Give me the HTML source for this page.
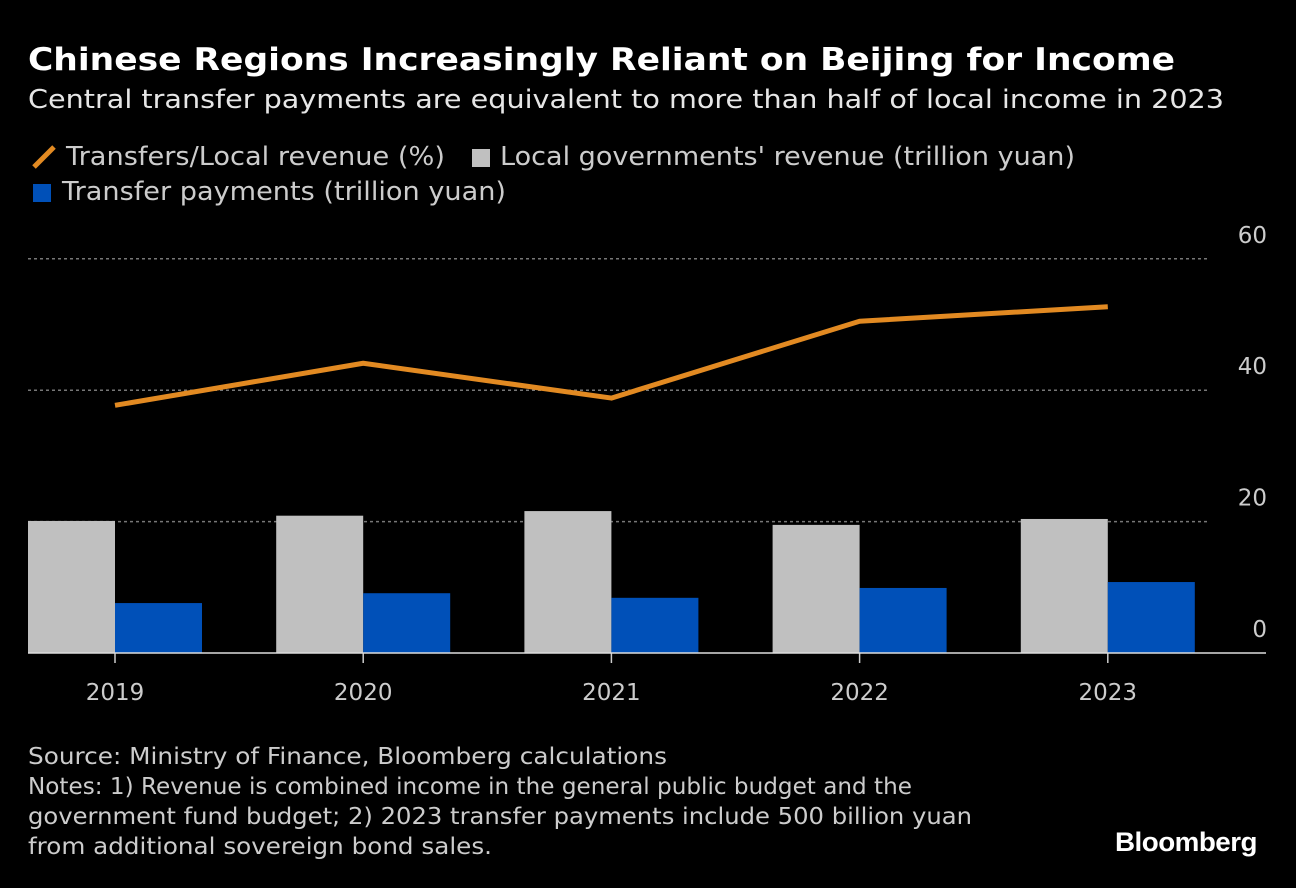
<!DOCTYPE html>
<html><head><meta charset="utf-8"><style>
body{margin:0;background:#000;width:1296px;height:888px;overflow:hidden;font-family:"DejaVu Sans",sans-serif;color:#ddd;position:relative}
.t{position:absolute;white-space:nowrap;transform-origin:0 0}
</style></head><body>
<div class="t fit" data-w="1147" style="left:28px;top:42px;font-size:31px;font-weight:bold;color:#fff">Chinese Regions Increasingly Reliant on Beijing for Income</div>
<div class="t fit" data-w="1196" style="left:28px;top:85px;font-size:26px;color:#e6e6e6">Central transfer payments are equivalent to more than half of local income in 2023</div>
<svg class="t" style="left:30px;top:143px" width="28" height="28"><line x1="4" y1="24" x2="24" y2="4" stroke="#e28a22" stroke-width="5"/></svg>
<div class="t fit" data-w="379" style="left:66px;top:142px;font-size:26px;color:#ccc">Transfers/Local revenue (%)</div>
<div class="t" style="left:472px;top:149px;width:18px;height:18px;background:#c0c0c0"></div>
<div class="t fit" data-w="575" style="left:500px;top:142px;font-size:26px;color:#ccc">Local governments' revenue (trillion yuan)</div>
<div class="t" style="left:33px;top:184px;width:18px;height:18px;background:#0050b8"></div>
<div class="t fit" data-w="444" style="left:62px;top:177px;font-size:26px;color:#ccc">Transfer payments (trillion yuan)</div>
<svg id="chart" width="1296" height="888" style="position:absolute;left:0;top:0"></svg>
<div class="t fit" data-w="639" style="left:28px;top:744px;font-size:23px;color:#ccc">Source: Ministry of Finance, Bloomberg calculations</div>
<div class="t fit" data-w="884" style="left:28px;top:774px;font-size:23px;color:#ccc">Notes: 1) Revenue is combined income in the general public budget and the</div>
<div class="t fit" data-w="944" style="left:28px;top:804px;font-size:23px;color:#ccc">government fund budget; 2) 2023 transfer payments include 500 billion yuan</div>
<div class="t fit" data-w="464" style="left:28px;top:834px;font-size:23px;color:#ccc">from additional sovereign bond sales.</div>
<div class="t fit" data-w="142" style="left:1115px;top:827px;font-size:27px;font-weight:bold;color:#fff;font-family:'Liberation Sans',sans-serif;letter-spacing:-0.5px">Bloomberg</div>
<script>
const categories=["2019","2020","2021","2022","2023"];
const revenue=[20.1,20.9,21.6,19.5,20.4];
const transfers=[7.6,9.1,8.4,9.9,10.8];
const ratio=[37.7,44.1,38.8,50.5,52.7];
const ticks=[0,20,40,60];
document.querySelectorAll('.fit').forEach(e=>{const w=e.getBoundingClientRect().width;e.style.transform='scaleX('+(+e.dataset.w/w)+')';});
const svg=document.getElementById('chart');
const NS='http://www.w3.org/2000/svg';
const y=v=>653-v*6.57;
const x=i=>115+i*248.2;
function mk(t,a){const e=document.createElementNS(NS,t);for(const k in a)e.setAttribute(k,a[k]);svg.appendChild(e);return e;}
ticks.forEach(t=>{
 if(t>0){const g=mk('line',{x1:28,x2:1210,y1:y(t),y2:y(t),stroke:'#777','stroke-width':1.5,'stroke-dasharray':'3,3'});
 
 }
 const l=mk('text',{x:1267,y:y(t)-16,'text-anchor':'end','font-size':23,fill:'#ccc','font-family':'DejaVu Sans, sans-serif'});l.textContent=t;
 
 
});
categories.forEach((c,i)=>{
 const g=mk('rect',{x:x(i)-87,y:y(revenue[i]),width:87,height:653-y(revenue[i]),fill:'#c0c0c0'});
 
 
 const b=mk('rect',{x:x(i),y:y(transfers[i]),width:87,height:653-y(transfers[i]),fill:'#0050b8'});
 
 
 mk('line',{x1:x(i),x2:x(i),y1:653,y2:663,stroke:'#ccc','stroke-width':1.5});
 const l=mk('text',{x:x(i),y:700,'text-anchor':'middle','font-size':23,fill:'#ccc','font-family':'DejaVu Sans, sans-serif'});l.textContent=c;
 
 
});
const ax=mk('line',{x1:28,x2:1266,y1:653,y2:653,stroke:'#ddd','stroke-width':1.5});


const p=mk('polyline',{points:ratio.map((v,i)=>x(i)+','+y(v)).join(' '),fill:'none',stroke:'#e28a22','stroke-width':5,'stroke-linejoin':'round'});


</script>
</body></html>
